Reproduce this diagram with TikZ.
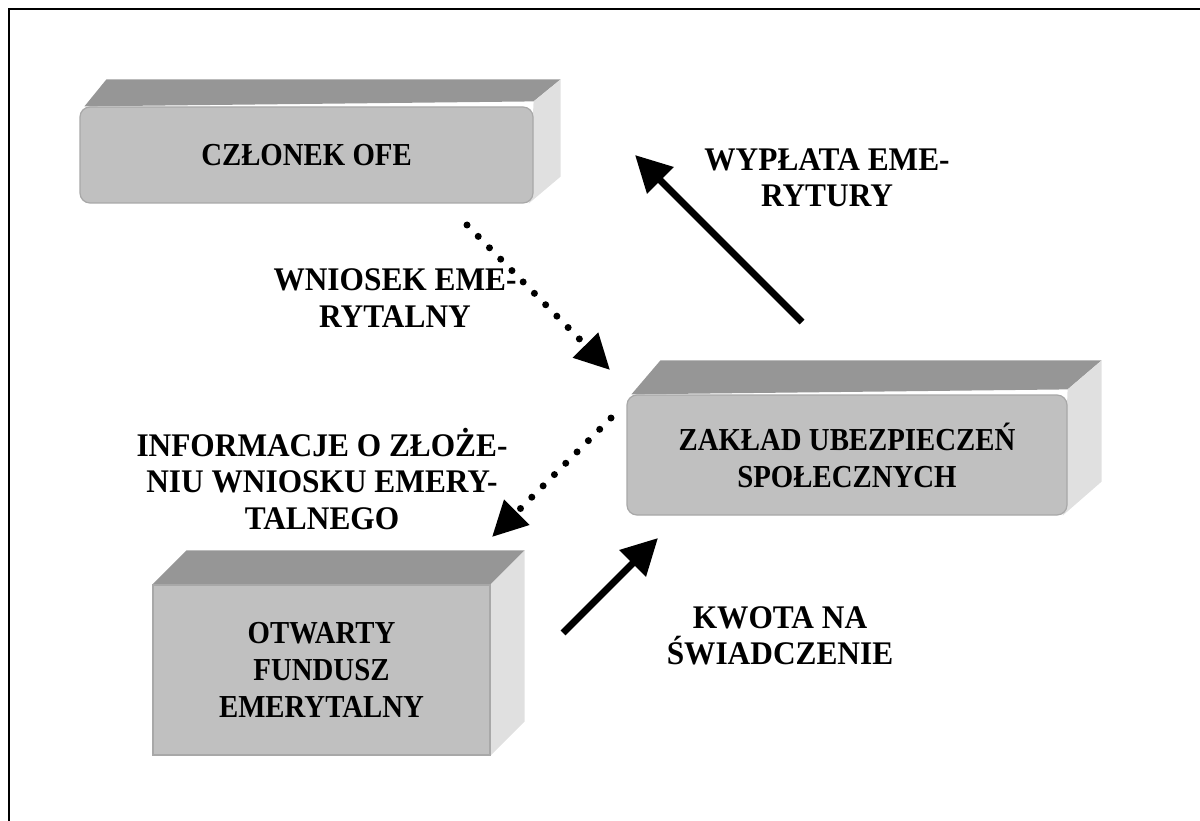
\documentclass[tikz,border=0pt]{standalone}
\usepackage{fontspec}
\setmainfont{Liberation Serif}
\newfontfamily\boxfont[FakeStretch=0.9]{Liberation Serif}
\newfontfamily\lblfont[FakeStretch=0.95]{Liberation Serif}
\usetikzlibrary{arrows.meta,backgrounds}
\definecolor{frontgray}{HTML}{C0C0C0}
\definecolor{topgray}{HTML}{969696}
\definecolor{sidegray}{HTML}{E0E0E0}
\definecolor{edgegray}{HTML}{A8A8A8}
\begin{document}
\begin{tikzpicture}[x=1pt,y=-1pt,
  front/.style={fill=frontgray, draw=edgegray, line width=1.2pt, inner sep=0pt, align=center,
    font=\boxfont\fontsize{32}{37}\selectfont\bfseries},
  roundfront/.style={front, rounded corners=10pt},
  topface/.style={fill=topgray},
  sideface/.style={fill=sidegray},
  lbl/.style={align=center, inner sep=0pt, font=\lblfont\fontsize{33}{36.5}\selectfont\bfseries},
  solidarrow/.style={line width=7pt, -{Triangle[length=36pt,width=36pt]}},
  dotarrow/.style={line width=7pt, line cap=round, dash pattern=on 0pt off 16pt,
    -{Triangle[length=35pt,width=34pt]}}
]
\useasboundingbox (0,0) rectangle (1200,821);
% frame
\draw[line width=2.5pt] (9,821) -- (9,9) -- (1200,9);

% boxes (front faces)
\node[roundfront, minimum width=453pt, minimum height=96pt] (czl) at (306.5,155) {CZŁONEK OFE};
\node[roundfront, minimum width=440pt, minimum height=120pt] (zus) at (847,455) {ZAKŁAD UBEZPIECZEŃ\\SPOŁECZNYCH};
\node[front, minimum width=337pt, minimum height=170pt] (ofe) at (321.5,670) {OTWARTY\\FUNDUSZ\\EMERYTALNY};

\begin{scope}[on background layer]
  % box 1
  \fill[topface] ([xshift=5pt]czl.north west) -- ([shift={(27,-27)}]czl.north west)
     -- ([shift={(27,-27)}]czl.north east) -- ([yshift=5pt]czl.north east) -- cycle;
  \fill[sideface] ([yshift=5pt]czl.north east) -- ([shift={(27,-27)}]czl.north east)
     -- ([shift={(27,-27)}]czl.south east) -- ([xshift=-5pt]czl.south east) -- cycle;
  % box 2
  \fill[topface] ([xshift=5pt]zus.north west) -- ([shift={(34,-34)}]zus.north west)
     -- ([shift={(34,-34)}]zus.north east) -- ([yshift=5pt]zus.north east) -- cycle;
  \fill[sideface] ([yshift=5pt]zus.north east) -- ([shift={(34,-34)}]zus.north east)
     -- ([shift={(34,-34)}]zus.south east) -- ([xshift=-5pt]zus.south east) -- cycle;
  % box 3
  \fill[topface] (ofe.north west) -- ([shift={(34,-34)}]ofe.north west)
     -- ([shift={(34,-34)}]ofe.north east) -- (ofe.north east) -- cycle;
  \fill[sideface] (ofe.north east) -- ([shift={(34,-34)}]ofe.north east)
     -- ([shift={(34,-34)}]ofe.south east) -- (ofe.south east) -- cycle;
\end{scope}

% labels
\node[lbl] (wyp) at (827,178) {WYPŁATA EME-\\RYTURY};
\node[lbl] (wni) at (395,298) {WNIOSEK EME-\\RYTALNY};
\node[lbl] (inf) at (322,479) {INFORMACJE O ZŁOŻE-\\NIU WNIOSKU EMERY-\\TALNEGO};
\node[lbl] (kwo) at (780,636) {KWOTA NA\\ŚWIADCZENIE};

% connector end points
\coordinate (d1s) at (467,225);
\coordinate (d1e) at (610,370);
\coordinate (d2s) at (611,418);
\coordinate (d2e) at (492,537);
\coordinate (s1s) at (802,322);
\coordinate (s1e) at (635,155);
\coordinate (s2s) at (563,633);
\coordinate (s2e) at (658,538);

% connectors
\draw[dotarrow] (d1s) -- (d1e);
\draw[dotarrow] (d2s) -- (d2e);
\draw[solidarrow] (s1s) -- (s1e);
\draw[solidarrow] (s2s) -- (s2e);
\end{tikzpicture}
\end{document}
